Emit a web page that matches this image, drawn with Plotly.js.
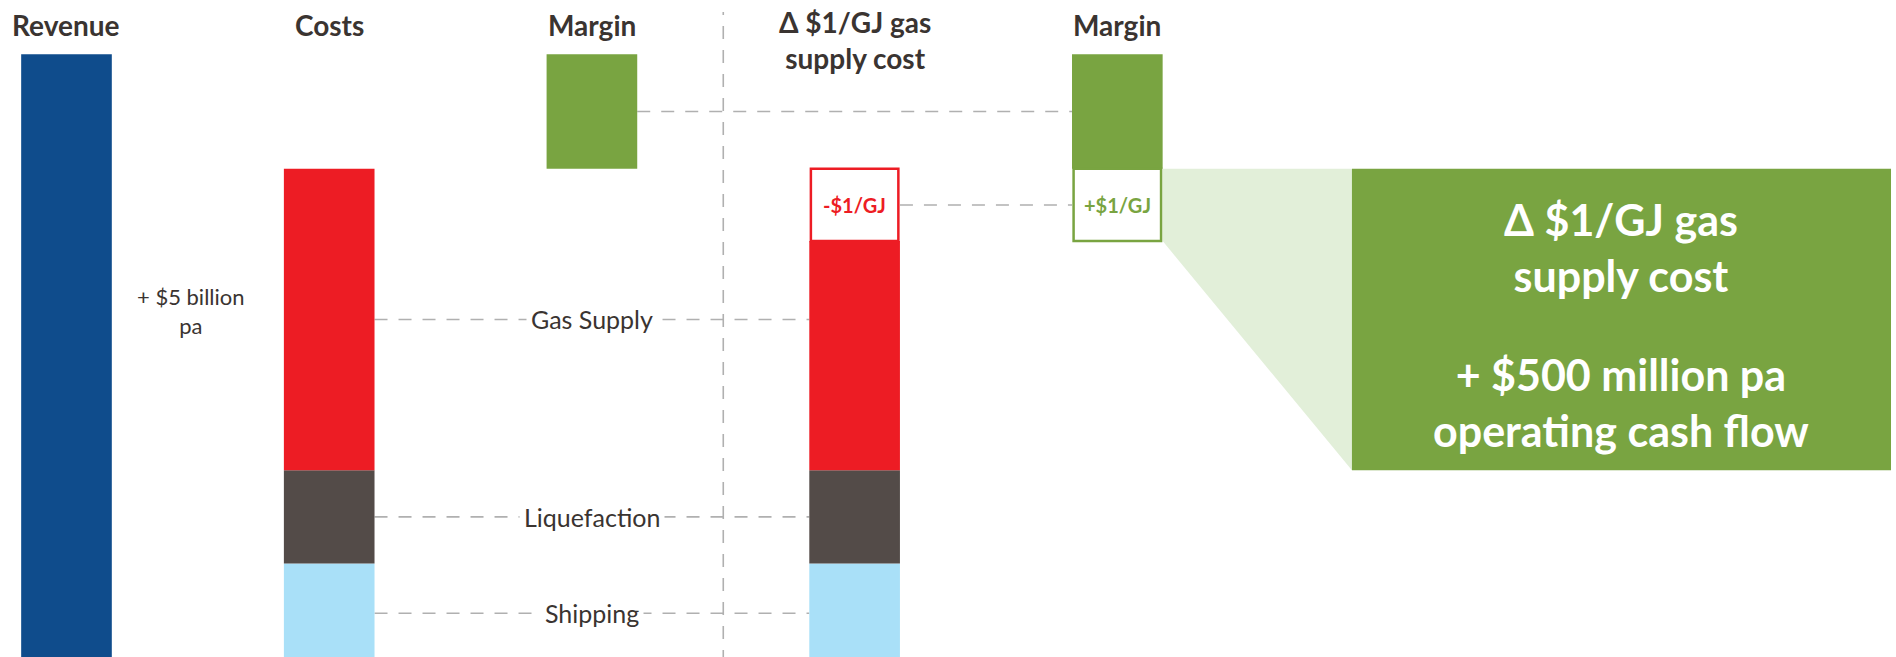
<!DOCTYPE html>
<html>
<head>
<meta charset="utf-8">
<script src="https://cdn.plot.ly/plotly-3.0.1.min.js"></script>
<style>html,body{margin:0;padding:0;background:#fff;}#chart{width:1896px;height:657px;}</style>
</head>
<body>
<div id="chart"></div>
<script>
// ---- data ----
const columnHeaders = ['Revenue', 'Costs', 'Margin', 'Δ $1/GJ gas<br>supply cost', 'Margin'];
const revenueValue = 101;
const costNames = ['Shipping', 'Liquefaction', 'Gas Supply'];
const costValues = [16.5, 15.5, 50];
const marginValue = 19;
const gasDeltaValue = 12;
const revenueNote = '+ $5 billion<br>pa';
const deltaLabels = ['-$1/GJ', '+$1/GJ'];
const calloutBlocks = ['Δ $1/GJ gas<br>supply cost', '+ $500 million pa<br>operating cash flow'];

// ---- styles ----
const C = {
  blue: '#0f4c8c', red: '#ed1c24', dark: '#534b48', light: '#a9e0f8',
  green: '#79a441', paleGreen: '#e2efd9', text: '#3a3431', dash: '#b0b0b0'
};
const costColors = [C.light, C.dark, C.red];
const BW = 0.345;           // bar width in x units
const X = {rev: 0, cost: 1, margin: 2, delta: 3, margin2: 4};
const FONT = 'Lato, "Open Sans", sans-serif';

// cumulative bases
const costBases = [];
let acc = 0;
costValues.forEach(v => { costBases.push(acc); acc += v; });
const costTotal = acc;
const gasIdx = costNames.indexOf('Gas Supply');
const gasRemaining = costValues[gasIdx] - gasDeltaValue;
const deltaBase = costBases[gasIdx] + gasRemaining;

const traces = [];
// revenue
traces.push({type: 'bar', x: [X.rev], y: [revenueValue], base: [0], width: BW,
  marker: {color: C.blue, line: {width: 0}}, hoverinfo: 'skip'});
// cost stacks (costs column and delta column)
costNames.forEach((n, i) => {
  const h2 = (i === gasIdx) ? gasRemaining : costValues[i];
  traces.push({type: 'bar', name: n, x: [X.cost, X.delta], y: [costValues[i], h2],
    base: [costBases[i], costBases[i]], width: BW,
    marker: {color: costColors[i], line: {width: 0}}, hoverinfo: 'skip'});
});
// delta box (white, red outline)
traces.push({type: 'bar', x: [X.delta], y: [gasDeltaValue], base: [deltaBase], width: BW - 0.012,
  marker: {color: '#ffffff', line: {color: C.red, width: 2.5}}, hoverinfo: 'skip'});
// margin bars
traces.push({type: 'bar', x: [X.margin, X.margin2], y: [marginValue, marginValue],
  base: [costTotal, costTotal], width: BW,
  marker: {color: C.green, line: {width: 0}}, hoverinfo: 'skip'});
// extra margin box (white, green outline)
traces.push({type: 'bar', x: [X.margin2], y: [gasDeltaValue], base: [deltaBase], width: BW - 0.012,
  marker: {color: '#ffffff', line: {color: C.green, width: 2.5}}, hoverinfo: 'skip'});

// ---- shapes ----
const shapes = [];
const dashLine = {color: C.dash, width: 1.6, dash: '13px,11px'};
const half = BW / 2;
// vertical divider
shapes.push({type: 'line', xref: 'x', yref: 'y', x0: 2.5, x1: 2.5, y0: 0, y1: 108, line: dashLine, layer: 'below'});
// margin connector
const marginMid = costTotal + marginValue / 2;
shapes.push({type: 'line', xref: 'x', yref: 'y', x0: X.margin + half, x1: X.margin2 - half,
  y0: marginMid, y1: marginMid, line: dashLine, layer: 'below'});
// delta connector
const deltaMid = deltaBase + gasDeltaValue / 2;
shapes.push({type: 'line', xref: 'x', yref: 'y', x0: X.delta + half, x1: X.margin2 - half,
  y0: deltaMid, y1: deltaMid, line: dashLine, layer: 'below'});
// cost connectors
const costMids = costValues.map((v, i) => costBases[i] + v / 2);
costMids.forEach(m => shapes.push({type: 'line', xref: 'x', yref: 'y', x0: X.cost + half, x1: X.delta - half,
  y0: m, y1: m, line: dashLine, layer: 'below'}));
// callout
const boxX0 = 4.893, boxX1 = 6.945;
const boxY0 = costBases[gasIdx], boxY1 = costTotal;
shapes.push({type: 'path', xref: 'x', yref: 'y',
  path: `M ${X.margin2 + half} ${costTotal} L ${boxX0} ${boxY1} L ${boxX0} ${boxY0} L ${X.margin2 + half} ${deltaBase} Z`,
  fillcolor: C.paleGreen, line: {width: 0}, layer: 'below'});
shapes.push({type: 'rect', xref: 'x', yref: 'y', x0: boxX0, x1: boxX1, y0: boxY0, y1: boxY1,
  fillcolor: C.green, line: {width: 0}, layer: 'below'});

// ---- annotations ----
const ann = [];
columnHeaders.forEach((h, i) => {
  const two = h.indexOf('<br>') >= 0;
  ann.push({x: i, y: two ? 103.3 : 105.9, xref: 'x', yref: 'y', text: '<b>' + h + '</b>', showarrow: false,
    xanchor: 'center', yanchor: 'middle', font: {family: FONT, size: 28, color: C.text}});
});
ann.push({x: 0.475, y: 58.4, xref: 'x', yref: 'y', text: revenueNote, showarrow: false,
  font: {family: FONT, size: 22, color: C.text}});
costNames.forEach((n, i) => ann.push({x: (X.cost + X.delta) / 2, y: costMids[i], xref: 'x', yref: 'y', text: n,
  showarrow: false, bgcolor: '#ffffff', borderpad: 4, font: {family: FONT, size: 25, color: C.text}}));
ann.push({x: X.delta, y: deltaMid, xref: 'x', yref: 'y', text: '<b>' + deltaLabels[0] + '</b>', showarrow: false,
  font: {family: FONT, size: 20, color: C.red}});
ann.push({x: X.margin2, y: deltaMid, xref: 'x', yref: 'y', text: '<b>' + deltaLabels[1] + '</b>', showarrow: false,
  font: {family: FONT, size: 20, color: C.green}});
const boxMid = (boxY0 + boxY1) / 2;
const blockOffsets = [11.9, -13.8];
calloutBlocks.forEach((t, i) => ann.push({x: (boxX0 + boxX1) / 2, y: boxMid + blockOffsets[i], xref: 'x', yref: 'y',
  text: '<b>' + t + '</b>', showarrow: false, yanchor: 'middle',
  font: {family: FONT, size: 43, color: '#ffffff'}}));

const layout = {
  width: 1896, height: 657,
  margin: {l: 0, r: 0, t: 0, b: 0},
  paper_bgcolor: '#ffffff', plot_bgcolor: '#ffffff',
  barmode: 'overlay', showlegend: false,
  xaxis: {range: [-0.2531, 6.964], visible: false, fixedrange: true},
  yaxis: {range: [1, 110], visible: false, fixedrange: true},
  shapes: shapes, annotations: ann
};
Plotly.newPlot('chart', traces, layout, {staticPlot: true, displayModeBar: false});
</script>
</body>
</html>
